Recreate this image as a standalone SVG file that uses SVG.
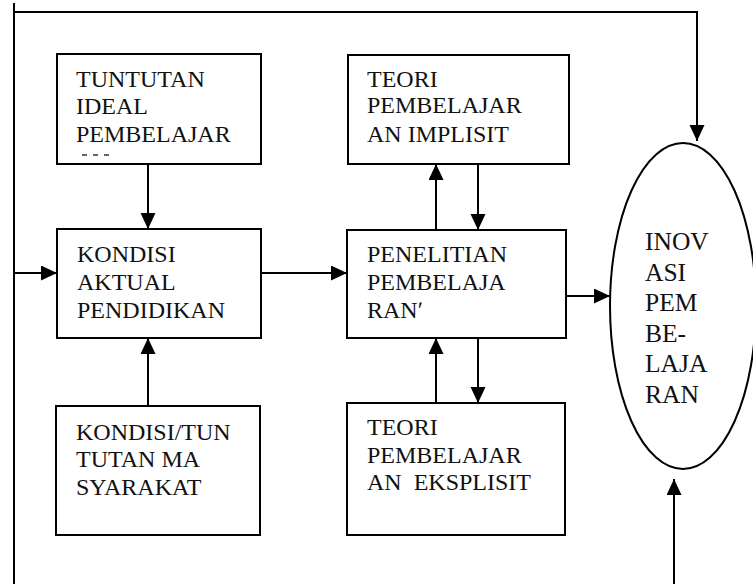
<svg xmlns="http://www.w3.org/2000/svg" width="753" height="584" viewBox="0 0 753 584">
<style>
.box{fill:#fff;stroke:#000;stroke-width:2}
text{font-family:'Liberation Serif','Times New Roman',serif;fill:#111}
.t{font-size:24px}
.te{font-size:25.5px}
.c{fill:none;stroke:#000;stroke-width:2}
.ca{fill:none;stroke:#000;stroke-width:2;marker-end:url(#ah)}
</style>
<defs>
<marker id="ah" markerUnits="userSpaceOnUse" markerWidth="17" markerHeight="16" refX="16" refY="7.5" orient="auto">
<path d="M0,0 L16,7.5 L0,15 z" fill="#000"/>
</marker>
</defs>
<rect width="753" height="584" fill="#fff"/>
<g id="connectors">
<path class="c" d="M14,3 V584"/>
<path class="ca" d="M14,12 H697 V141"/>
<path class="ca" d="M14,273 H57"/>
<path class="ca" d="M148,164 V229"/>
<path class="ca" d="M148,406 V338"/>
<path class="ca" d="M261,273 H347"/>
<path class="ca" d="M436,230 V164"/>
<path class="ca" d="M478,164 V230"/>
<path class="ca" d="M436,403 V338"/>
<path class="ca" d="M478,338 V403"/>
<path class="ca" d="M566,296 H610"/>
<path class="ca" d="M674,584 V479"/>
</g>
<g id="tuntutan">
<rect class="box" x="57" y="54" width="204" height="110"/>
<text class="t" x="76" y="87">TUNTUTAN</text>
<text class="t" x="76" y="114">IDEAL</text>
<text class="t" x="76" y="142">PEMBELAJAR</text>
<path d="M82,155 H110" stroke="#333" stroke-width="1.5" stroke-dasharray="5,6"/>
</g>
<g id="kondisi-aktual">
<rect class="box" x="57" y="229" width="204" height="109"/>
<text class="t" x="77" y="262">KONDISI</text>
<text class="t" x="77" y="290">AKTUAL</text>
<text class="t" x="77" y="318">PENDIDIKAN</text>
</g>
<g id="kondisi-masyarakat">
<rect class="box" x="56" y="406" width="204" height="129"/>
<text class="t" x="76" y="440">KONDISI/TUN</text>
<text class="t" x="76" y="467">TUTAN MA</text>
<text class="t" x="76" y="495">SYARAKAT</text>
</g>
<g id="teori-implisit">
<rect class="box" x="348" y="55" width="221" height="109"/>
<text class="t" x="367" y="87">TEORI</text>
<text class="t" x="367" y="113">PEMBELAJAR</text>
<text class="t" x="367" y="142">AN IMPLISIT</text>
</g>
<g id="penelitian">
<rect class="box" x="347" y="230" width="219" height="108"/>
<text class="t" x="367" y="262">PENELITIAN</text>
<text class="t" x="367" y="290">PEMBELAJA</text>
<text class="t" x="367" y="318">RANʹ</text>
</g>
<g id="teori-eksplisit">
<rect class="box" x="347" y="403" width="218" height="132"/>
<text class="t" x="367" y="435">TEORI</text>
<text class="t" x="367" y="463">PEMBELAJAR</text>
<text class="t" x="367" y="490" xml:space="preserve">AN  EKSPLISIT</text>
</g>
<g id="inovasi">
<ellipse cx="683" cy="306" rx="73" ry="163" fill="#fff" stroke="#000" stroke-width="2"/>
<text class="te" x="645" y="250">INOV</text>
<text class="te" x="645" y="281">ASI</text>
<text class="te" x="645" y="311">PEM</text>
<text class="te" x="645" y="342">BE-</text>
<text class="te" x="645" y="372">LAJA</text>
<text class="te" x="645" y="403">RAN</text>
</g>
</svg>
